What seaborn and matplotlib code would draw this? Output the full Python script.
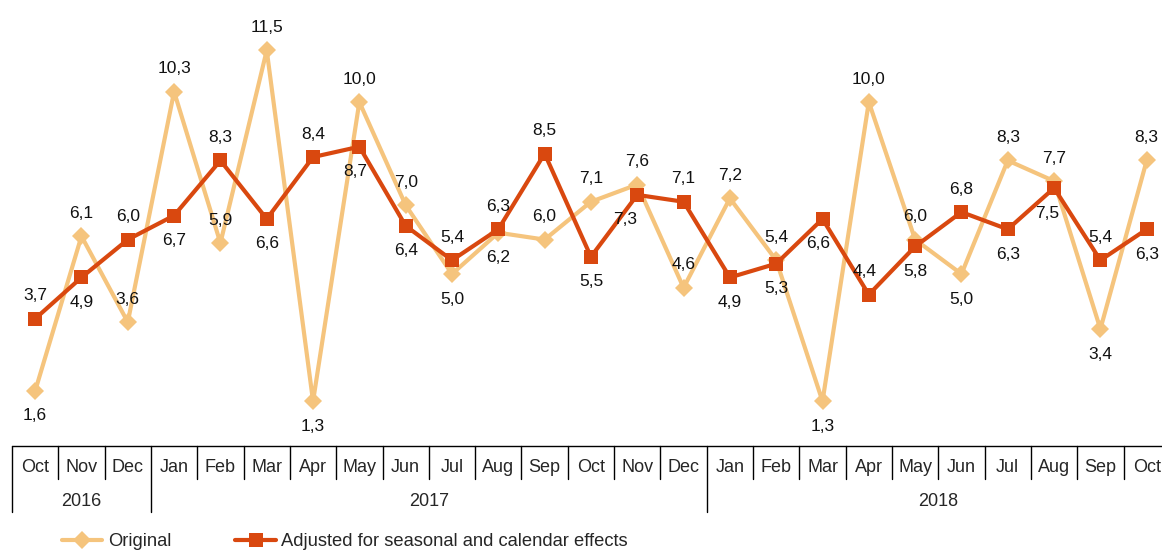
import matplotlib
matplotlib.use("Agg")
import matplotlib.pyplot as plt
import matplotlib.transforms as mtransforms
from matplotlib.lines import Line2D
import numpy as np
import pandas as pd
import seaborn as sns

# ── data ─────────────────────────────────────
months = ["Oct", "Nov", "Dec",
          "Jan", "Feb", "Mar", "Apr", "May", "Jun", "Jul", "Aug", "Sep", "Oct", "Nov", "Dec",
          "Jan", "Feb", "Mar", "Apr", "May", "Jun", "Jul", "Aug", "Sep", "Oct"]
years = ["2016", "2017", "2018"]
year_spans = [(0, 3), (3, 15), (15, 25)]   # month index ranges per year

original = [1.6, 6.1, 3.6, 10.3, 5.9, 11.5, 1.3, 10.0, 7.0, 5.0, 6.2, 6.0, 7.1, 7.6, 4.6,
            7.2, 5.4, 1.3, 10.0, 6.0, 5.0, 8.3, 7.7, 3.4, 8.3]
adjusted = [3.7, 4.9, 6.0, 6.7, 8.3, 6.6, 8.4, 8.7, 6.4, 5.4, 6.3, 8.5, 5.5, 7.3, 7.1,
            4.9, 5.3, 6.6, 4.4, 5.8, 6.8, 6.3, 7.5, 5.4, 6.3]

# label placement: 1 = above the marker, -1 = below
orig_side = [-1, 1, 1, 1, 1, 1, -1, 1, 1, -1, -1, 1, 1, 1, 1,
             1, 1, -1, 1, 1, -1, 1, 1, -1, 1]
adj_side = [1, -1, 1, -1, 1, -1, 1, -1, -1, 1, 1, 1, -1, -1, 1,
            -1, -1, -1, 1, -1, 1, -1, -1, 1, -1]
adj_dx = {13: -9, 17: -3, 18: -3, 22: -5, 7: -3}

C_ORIG = "#F5C47D"
C_ADJ = "#D9480F"

sns.set_style("white")
plt.rcParams["font.family"] = ["Liberation Sans", "DejaVu Sans"]

df = pd.DataFrame({"idx": np.arange(len(months)), "original": original, "adjusted": adjusted})

W, H = 1162, 550
fig = plt.figure(figsize=(W / 100, H / 100), dpi=100)
ax = fig.add_axes([12 / W, (H - 446) / H, (W - 12) / W, 446 / H])

sns.lineplot(data=df, x="idx", y="original", ax=ax, color=C_ORIG, lw=3,
             marker="D", markersize=9, markeredgewidth=0, zorder=2)
sns.lineplot(data=df, x="idx", y="adjusted", ax=ax, color=C_ADJ, lw=3,
             marker="s", markersize=10, markeredgewidth=0, zorder=3)

def fmt(v):
    return f"{v:.1f}".replace(".", ",")

for i, (v, s) in enumerate(zip(original, orig_side)):
    ax.annotate(fmt(v), (i, v), xytext=(0, 16.5 if s > 0 else -18), textcoords="offset points",
                ha="center", va="center", fontsize=12.5, color="#111111", zorder=5)
for i, (v, s) in enumerate(zip(adjusted, adj_side)):
    ax.annotate(fmt(v), (i, v), xytext=(adj_dx.get(i, 0), 16.5 if s > 0 else -18),
                textcoords="offset points",
                ha="center", va="center", fontsize=12.5, color="#111111", zorder=5)

ax.set_xlim(-0.5, 24.33)
ax.set_ylim(0, 446 / 34.4)
ax.set_axis_off()

# ── category table below the plot ──
px = 1 / 446   # one pixel in axes-fraction units
trans = mtransforms.blended_transform_factory(ax.transData, ax.transAxes)
ax.plot([-0.5, 25], [0, 0], transform=trans, color="black", lw=1, clip_on=False)
year_edges = {s for s, _ in year_spans}
for i in range(len(months)):
    y_end = -66 * px if i in year_edges else -33 * px
    ax.plot([i - 0.5, i - 0.5], [0, y_end], transform=trans, color="black", lw=1, clip_on=False)
    ax.text(i, -22 * px, months[i], transform=trans, ha="center", va="center",
            fontsize=13, clip_on=False)
for yr, (s, e) in zip(years, year_spans):
    ax.text((s + e - 1) / 2, -56 * px, yr, transform=trans, ha="center", va="center",
            fontsize=13, clip_on=False)

handles = [Line2D([], [], color=C_ORIG, lw=3, marker="D", markersize=9, markeredgewidth=0),
           Line2D([], [], color=C_ADJ, lw=3, marker="s", markersize=10, markeredgewidth=0)]
fig.legend(handles, ["Original", "Adjusted for seasonal and calendar effects"],
           loc="center left", bbox_to_anchor=(62 / W, 8 / H), ncol=2, frameon=False,
           fontsize=13.2, handlelength=2.2, handletextpad=0.3, columnspacing=3.5,
           borderaxespad=0, borderpad=0)

fig.savefig("out.png", dpi=100)
